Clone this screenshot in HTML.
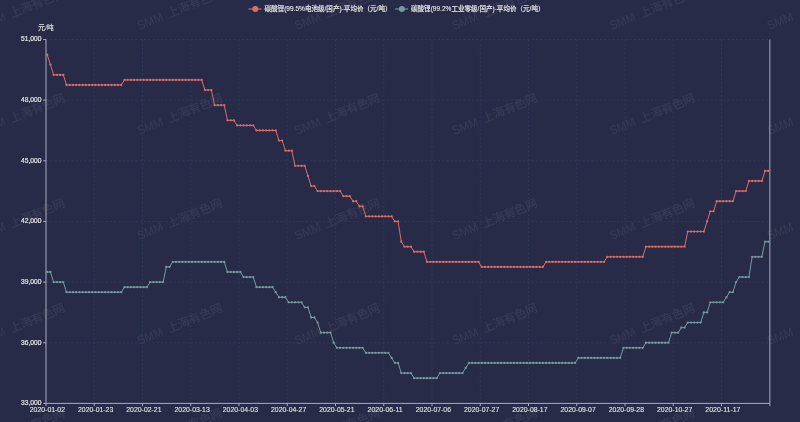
<!DOCTYPE html>
<html><head><meta charset="utf-8"><title>碳酸锂价格走势</title>
<style>html,body{margin:0;padding:0;background:#272b48;}body{width:800px;height:422px;overflow:hidden;}svg{display:block;}</style>
</head><body>
<svg width="800" height="422" viewBox="0 0 800 422" style="will-change:transform"><defs><filter id="sb" x="-5%" y="-5%" width="110%" height="110%"><feGaussianBlur stdDeviation="0.38"/></filter></defs><rect x="0" y="0" width="800" height="422" fill="#272b48"/><g fill="#ffffff" fill-opacity="0.075" font-family='"Liberation Sans", "Noto Sans CJK SC", sans-serif' font-size="11.9" font-weight="500"><g transform="translate(-18.20 30.00) rotate(-22)"><text x="0" y="0" font-size="12.3" textLength="26.6" lengthAdjust="spacingAndGlyphs">SMM</text><text x="32.2" y="0" letter-spacing="-0.3">上海有色网</text></g><g transform="translate(139.30 30.00) rotate(-22)"><text x="0" y="0" font-size="12.3" textLength="26.6" lengthAdjust="spacingAndGlyphs">SMM</text><text x="32.2" y="0" letter-spacing="-0.3">上海有色网</text></g><g transform="translate(296.80 30.00) rotate(-22)"><text x="0" y="0" font-size="12.3" textLength="26.6" lengthAdjust="spacingAndGlyphs">SMM</text><text x="32.2" y="0" letter-spacing="-0.3">上海有色网</text></g><g transform="translate(454.30 30.00) rotate(-22)"><text x="0" y="0" font-size="12.3" textLength="26.6" lengthAdjust="spacingAndGlyphs">SMM</text><text x="32.2" y="0" letter-spacing="-0.3">上海有色网</text></g><g transform="translate(611.80 30.00) rotate(-22)"><text x="0" y="0" font-size="12.3" textLength="26.6" lengthAdjust="spacingAndGlyphs">SMM</text><text x="32.2" y="0" letter-spacing="-0.3">上海有色网</text></g><g transform="translate(769.30 30.00) rotate(-22)"><text x="0" y="0" font-size="12.3" textLength="26.6" lengthAdjust="spacingAndGlyphs">SMM</text><text x="32.2" y="0" letter-spacing="-0.3">上海有色网</text></g><g transform="translate(926.80 30.00) rotate(-22)"><text x="0" y="0" font-size="12.3" textLength="26.6" lengthAdjust="spacingAndGlyphs">SMM</text><text x="32.2" y="0" letter-spacing="-0.3">上海有色网</text></g><g transform="translate(-18.20 135.00) rotate(-22)"><text x="0" y="0" font-size="12.3" textLength="26.6" lengthAdjust="spacingAndGlyphs">SMM</text><text x="32.2" y="0" letter-spacing="-0.3">上海有色网</text></g><g transform="translate(139.30 135.00) rotate(-22)"><text x="0" y="0" font-size="12.3" textLength="26.6" lengthAdjust="spacingAndGlyphs">SMM</text><text x="32.2" y="0" letter-spacing="-0.3">上海有色网</text></g><g transform="translate(296.80 135.00) rotate(-22)"><text x="0" y="0" font-size="12.3" textLength="26.6" lengthAdjust="spacingAndGlyphs">SMM</text><text x="32.2" y="0" letter-spacing="-0.3">上海有色网</text></g><g transform="translate(454.30 135.00) rotate(-22)"><text x="0" y="0" font-size="12.3" textLength="26.6" lengthAdjust="spacingAndGlyphs">SMM</text><text x="32.2" y="0" letter-spacing="-0.3">上海有色网</text></g><g transform="translate(611.80 135.00) rotate(-22)"><text x="0" y="0" font-size="12.3" textLength="26.6" lengthAdjust="spacingAndGlyphs">SMM</text><text x="32.2" y="0" letter-spacing="-0.3">上海有色网</text></g><g transform="translate(769.30 135.00) rotate(-22)"><text x="0" y="0" font-size="12.3" textLength="26.6" lengthAdjust="spacingAndGlyphs">SMM</text><text x="32.2" y="0" letter-spacing="-0.3">上海有色网</text></g><g transform="translate(926.80 135.00) rotate(-22)"><text x="0" y="0" font-size="12.3" textLength="26.6" lengthAdjust="spacingAndGlyphs">SMM</text><text x="32.2" y="0" letter-spacing="-0.3">上海有色网</text></g><g transform="translate(-18.20 240.00) rotate(-22)"><text x="0" y="0" font-size="12.3" textLength="26.6" lengthAdjust="spacingAndGlyphs">SMM</text><text x="32.2" y="0" letter-spacing="-0.3">上海有色网</text></g><g transform="translate(139.30 240.00) rotate(-22)"><text x="0" y="0" font-size="12.3" textLength="26.6" lengthAdjust="spacingAndGlyphs">SMM</text><text x="32.2" y="0" letter-spacing="-0.3">上海有色网</text></g><g transform="translate(296.80 240.00) rotate(-22)"><text x="0" y="0" font-size="12.3" textLength="26.6" lengthAdjust="spacingAndGlyphs">SMM</text><text x="32.2" y="0" letter-spacing="-0.3">上海有色网</text></g><g transform="translate(454.30 240.00) rotate(-22)"><text x="0" y="0" font-size="12.3" textLength="26.6" lengthAdjust="spacingAndGlyphs">SMM</text><text x="32.2" y="0" letter-spacing="-0.3">上海有色网</text></g><g transform="translate(611.80 240.00) rotate(-22)"><text x="0" y="0" font-size="12.3" textLength="26.6" lengthAdjust="spacingAndGlyphs">SMM</text><text x="32.2" y="0" letter-spacing="-0.3">上海有色网</text></g><g transform="translate(769.30 240.00) rotate(-22)"><text x="0" y="0" font-size="12.3" textLength="26.6" lengthAdjust="spacingAndGlyphs">SMM</text><text x="32.2" y="0" letter-spacing="-0.3">上海有色网</text></g><g transform="translate(926.80 240.00) rotate(-22)"><text x="0" y="0" font-size="12.3" textLength="26.6" lengthAdjust="spacingAndGlyphs">SMM</text><text x="32.2" y="0" letter-spacing="-0.3">上海有色网</text></g><g transform="translate(-18.20 345.00) rotate(-22)"><text x="0" y="0" font-size="12.3" textLength="26.6" lengthAdjust="spacingAndGlyphs">SMM</text><text x="32.2" y="0" letter-spacing="-0.3">上海有色网</text></g><g transform="translate(139.30 345.00) rotate(-22)"><text x="0" y="0" font-size="12.3" textLength="26.6" lengthAdjust="spacingAndGlyphs">SMM</text><text x="32.2" y="0" letter-spacing="-0.3">上海有色网</text></g><g transform="translate(296.80 345.00) rotate(-22)"><text x="0" y="0" font-size="12.3" textLength="26.6" lengthAdjust="spacingAndGlyphs">SMM</text><text x="32.2" y="0" letter-spacing="-0.3">上海有色网</text></g><g transform="translate(454.30 345.00) rotate(-22)"><text x="0" y="0" font-size="12.3" textLength="26.6" lengthAdjust="spacingAndGlyphs">SMM</text><text x="32.2" y="0" letter-spacing="-0.3">上海有色网</text></g><g transform="translate(611.80 345.00) rotate(-22)"><text x="0" y="0" font-size="12.3" textLength="26.6" lengthAdjust="spacingAndGlyphs">SMM</text><text x="32.2" y="0" letter-spacing="-0.3">上海有色网</text></g><g transform="translate(769.30 345.00) rotate(-22)"><text x="0" y="0" font-size="12.3" textLength="26.6" lengthAdjust="spacingAndGlyphs">SMM</text><text x="32.2" y="0" letter-spacing="-0.3">上海有色网</text></g><g transform="translate(926.80 345.00) rotate(-22)"><text x="0" y="0" font-size="12.3" textLength="26.6" lengthAdjust="spacingAndGlyphs">SMM</text><text x="32.2" y="0" letter-spacing="-0.3">上海有色网</text></g><g transform="translate(-18.20 450.00) rotate(-22)"><text x="0" y="0" font-size="12.3" textLength="26.6" lengthAdjust="spacingAndGlyphs">SMM</text><text x="32.2" y="0" letter-spacing="-0.3">上海有色网</text></g><g transform="translate(139.30 450.00) rotate(-22)"><text x="0" y="0" font-size="12.3" textLength="26.6" lengthAdjust="spacingAndGlyphs">SMM</text><text x="32.2" y="0" letter-spacing="-0.3">上海有色网</text></g><g transform="translate(296.80 450.00) rotate(-22)"><text x="0" y="0" font-size="12.3" textLength="26.6" lengthAdjust="spacingAndGlyphs">SMM</text><text x="32.2" y="0" letter-spacing="-0.3">上海有色网</text></g><g transform="translate(454.30 450.00) rotate(-22)"><text x="0" y="0" font-size="12.3" textLength="26.6" lengthAdjust="spacingAndGlyphs">SMM</text><text x="32.2" y="0" letter-spacing="-0.3">上海有色网</text></g><g transform="translate(611.80 450.00) rotate(-22)"><text x="0" y="0" font-size="12.3" textLength="26.6" lengthAdjust="spacingAndGlyphs">SMM</text><text x="32.2" y="0" letter-spacing="-0.3">上海有色网</text></g><g transform="translate(769.30 450.00) rotate(-22)"><text x="0" y="0" font-size="12.3" textLength="26.6" lengthAdjust="spacingAndGlyphs">SMM</text><text x="32.2" y="0" letter-spacing="-0.3">上海有色网</text></g><g transform="translate(926.80 450.00) rotate(-22)"><text x="0" y="0" font-size="12.3" textLength="26.6" lengthAdjust="spacingAndGlyphs">SMM</text><text x="32.2" y="0" letter-spacing="-0.3">上海有色网</text></g><g transform="translate(-18.20 555.00) rotate(-22)"><text x="0" y="0" font-size="12.3" textLength="26.6" lengthAdjust="spacingAndGlyphs">SMM</text><text x="32.2" y="0" letter-spacing="-0.3">上海有色网</text></g><g transform="translate(139.30 555.00) rotate(-22)"><text x="0" y="0" font-size="12.3" textLength="26.6" lengthAdjust="spacingAndGlyphs">SMM</text><text x="32.2" y="0" letter-spacing="-0.3">上海有色网</text></g><g transform="translate(296.80 555.00) rotate(-22)"><text x="0" y="0" font-size="12.3" textLength="26.6" lengthAdjust="spacingAndGlyphs">SMM</text><text x="32.2" y="0" letter-spacing="-0.3">上海有色网</text></g><g transform="translate(454.30 555.00) rotate(-22)"><text x="0" y="0" font-size="12.3" textLength="26.6" lengthAdjust="spacingAndGlyphs">SMM</text><text x="32.2" y="0" letter-spacing="-0.3">上海有色网</text></g><g transform="translate(611.80 555.00) rotate(-22)"><text x="0" y="0" font-size="12.3" textLength="26.6" lengthAdjust="spacingAndGlyphs">SMM</text><text x="32.2" y="0" letter-spacing="-0.3">上海有色网</text></g><g transform="translate(769.30 555.00) rotate(-22)"><text x="0" y="0" font-size="12.3" textLength="26.6" lengthAdjust="spacingAndGlyphs">SMM</text><text x="32.2" y="0" letter-spacing="-0.3">上海有色网</text></g><g transform="translate(926.80 555.00) rotate(-22)"><text x="0" y="0" font-size="12.3" textLength="26.6" lengthAdjust="spacingAndGlyphs">SMM</text><text x="32.2" y="0" letter-spacing="-0.3">上海有色网</text></g></g><g stroke="#2f3759" stroke-width="1" stroke-dasharray="2.13 2.13" fill="none" filter="url(#sb)"><line x1="46.00" y1="39.50" x2="769.85" y2="39.50"/><line x1="46.00" y1="100.15" x2="769.85" y2="100.15"/><line x1="46.00" y1="160.80" x2="769.85" y2="160.80"/><line x1="46.00" y1="221.45" x2="769.85" y2="221.45"/><line x1="46.00" y1="282.10" x2="769.85" y2="282.10"/><line x1="46.00" y1="342.75" x2="769.85" y2="342.75"/><line x1="94.25" y1="39.50" x2="94.25" y2="403.40"/><line x1="142.50" y1="39.50" x2="142.50" y2="403.40"/><line x1="190.75" y1="39.50" x2="190.75" y2="403.40"/><line x1="239.00" y1="39.50" x2="239.00" y2="403.40"/><line x1="287.25" y1="39.50" x2="287.25" y2="403.40"/><line x1="335.50" y1="39.50" x2="335.50" y2="403.40"/><line x1="383.75" y1="39.50" x2="383.75" y2="403.40"/><line x1="432.00" y1="39.50" x2="432.00" y2="403.40"/><line x1="480.25" y1="39.50" x2="480.25" y2="403.40"/><line x1="528.50" y1="39.50" x2="528.50" y2="403.40"/><line x1="576.75" y1="39.50" x2="576.75" y2="403.40"/><line x1="625.00" y1="39.50" x2="625.00" y2="403.40"/><line x1="673.25" y1="39.50" x2="673.25" y2="403.40"/><line x1="721.50" y1="39.50" x2="721.50" y2="403.40"/></g><g stroke="#a9acbe" stroke-width="1" fill="none" filter="url(#sb)"><line x1="46.0" y1="39.5" x2="46.0" y2="403.4"/><line x1="769.85" y1="39.5" x2="769.85" y2="403.4"/><line x1="46.0" y1="403.4" x2="769.85" y2="403.4"/><line x1="43.20" y1="39.50" x2="46.0" y2="39.50"/><line x1="43.20" y1="100.15" x2="46.0" y2="100.15"/><line x1="43.20" y1="160.80" x2="46.0" y2="160.80"/><line x1="43.20" y1="221.45" x2="46.0" y2="221.45"/><line x1="43.20" y1="282.10" x2="46.0" y2="282.10"/><line x1="43.20" y1="342.75" x2="46.0" y2="342.75"/><line x1="43.20" y1="403.40" x2="46.0" y2="403.40"/><line x1="46.00" y1="403.4" x2="46.00" y2="406.10"/><line x1="94.25" y1="403.4" x2="94.25" y2="406.10"/><line x1="142.50" y1="403.4" x2="142.50" y2="406.10"/><line x1="190.75" y1="403.4" x2="190.75" y2="406.10"/><line x1="239.00" y1="403.4" x2="239.00" y2="406.10"/><line x1="287.25" y1="403.4" x2="287.25" y2="406.10"/><line x1="335.50" y1="403.4" x2="335.50" y2="406.10"/><line x1="383.75" y1="403.4" x2="383.75" y2="406.10"/><line x1="432.00" y1="403.4" x2="432.00" y2="406.10"/><line x1="480.25" y1="403.4" x2="480.25" y2="406.10"/><line x1="528.50" y1="403.4" x2="528.50" y2="406.10"/><line x1="576.75" y1="403.4" x2="576.75" y2="406.10"/><line x1="625.00" y1="403.4" x2="625.00" y2="406.10"/><line x1="673.25" y1="403.4" x2="673.25" y2="406.10"/><line x1="721.50" y1="403.4" x2="721.50" y2="406.10"/><line x1="769.85" y1="403.4" x2="769.85" y2="406.10"/></g><g fill="#e6e6e6" stroke="#e6e6e6" stroke-width="0.2" font-family='"Liberation Sans", "Noto Sans CJK SC", sans-serif' font-size="6.7" text-anchor="end"><text x="41.4" y="41.25" textLength="20.4" lengthAdjust="spacingAndGlyphs">51,000</text><text x="41.4" y="101.90" textLength="20.4" lengthAdjust="spacingAndGlyphs">48,000</text><text x="41.4" y="162.55" textLength="20.4" lengthAdjust="spacingAndGlyphs">45,000</text><text x="41.4" y="223.20" textLength="20.4" lengthAdjust="spacingAndGlyphs">42,000</text><text x="41.4" y="283.85" textLength="20.4" lengthAdjust="spacingAndGlyphs">39,000</text><text x="41.4" y="344.50" textLength="20.4" lengthAdjust="spacingAndGlyphs">36,000</text><text x="41.4" y="405.15" textLength="20.4" lengthAdjust="spacingAndGlyphs">33,000</text></g><g fill="#e6e6e6" stroke="#e6e6e6" stroke-width="0.1" font-family='"Liberation Sans", "Noto Sans CJK SC", sans-serif' font-size="6.6" text-anchor="middle"><text x="47.40" y="411.9" textLength="35.2" lengthAdjust="spacingAndGlyphs">2020-01-02</text><text x="95.65" y="411.9" textLength="35.2" lengthAdjust="spacingAndGlyphs">2020-01-23</text><text x="143.90" y="411.9" textLength="35.2" lengthAdjust="spacingAndGlyphs">2020-02-21</text><text x="192.15" y="411.9" textLength="35.2" lengthAdjust="spacingAndGlyphs">2020-03-13</text><text x="240.40" y="411.9" textLength="35.2" lengthAdjust="spacingAndGlyphs">2020-04-03</text><text x="288.65" y="411.9" textLength="35.2" lengthAdjust="spacingAndGlyphs">2020-04-27</text><text x="336.90" y="411.9" textLength="35.2" lengthAdjust="spacingAndGlyphs">2020-05-21</text><text x="385.15" y="411.9" textLength="35.2" lengthAdjust="spacingAndGlyphs">2020-06-11</text><text x="433.40" y="411.9" textLength="35.2" lengthAdjust="spacingAndGlyphs">2020-07-06</text><text x="481.65" y="411.9" textLength="35.2" lengthAdjust="spacingAndGlyphs">2020-07-27</text><text x="529.90" y="411.9" textLength="35.2" lengthAdjust="spacingAndGlyphs">2020-08-17</text><text x="578.15" y="411.9" textLength="35.2" lengthAdjust="spacingAndGlyphs">2020-09-07</text><text x="626.40" y="411.9" textLength="35.2" lengthAdjust="spacingAndGlyphs">2020-09-28</text><text x="674.65" y="411.9" textLength="35.2" lengthAdjust="spacingAndGlyphs">2020-10-27</text><text x="722.90" y="411.9" textLength="35.2" lengthAdjust="spacingAndGlyphs">2020-11-17</text></g><text x="45.9" y="30.3" fill="#e6e6e6" font-family='"Liberation Sans", "Noto Sans CJK SC", sans-serif' font-size="7" font-weight="500" text-anchor="middle">元/吨</text><line x1="248.5" y1="9" x2="261.5" y2="9" stroke="#dd6b66" stroke-width="1.1"/><circle cx="255.35" cy="8.9" r="3" fill="#dd6b66"/><text x="264.5" y="11.3" fill="#e6e6e6" stroke="#e6e6e6" stroke-width="0.12" font-family='"Liberation Sans", "Noto Sans CJK SC", sans-serif' font-size="6.8" font-weight="500" textLength="127.0" lengthAdjust="spacingAndGlyphs">碳酸锂(99.5%电池级/国产)-平均价（元/吨）</text><line x1="395.0" y1="9" x2="408.0" y2="9" stroke="#759aa0" stroke-width="1.1"/><circle cx="401.85" cy="8.9" r="3" fill="#759aa0"/><text x="411.0" y="11.3" fill="#e6e6e6" stroke="#e6e6e6" stroke-width="0.12" font-family='"Liberation Sans", "Noto Sans CJK SC", sans-serif' font-size="6.8" font-weight="500" textLength="133.5" lengthAdjust="spacingAndGlyphs">碳酸锂(99.2%工业零级/国产)-平均价（元/吨）</text><polyline points="47.20,271.99 50.42,271.99 53.64,282.10 56.86,282.10 60.08,282.10 63.30,282.10 66.51,292.21 69.73,292.21 72.95,292.21 76.17,292.21 79.39,292.21 82.61,292.21 85.83,292.21 89.05,292.21 92.27,292.21 95.48,292.21 98.70,292.21 101.92,292.21 105.14,292.21 108.36,292.21 111.58,292.21 114.80,292.21 118.02,292.21 121.24,292.21 124.46,287.15 127.67,287.15 130.89,287.15 134.11,287.15 137.33,287.15 140.55,287.15 143.77,287.15 146.99,287.15 150.21,282.10 153.43,282.10 156.65,282.10 159.87,282.10 163.08,282.10 166.30,266.94 169.52,266.94 172.74,261.88 175.96,261.88 179.18,261.88 182.40,261.88 185.62,261.88 188.84,261.88 192.06,261.88 195.27,261.88 198.49,261.88 201.71,261.88 204.93,261.88 208.15,261.88 211.37,261.88 214.59,261.88 217.81,261.88 221.03,261.88 224.25,261.88 227.46,271.99 230.68,271.99 233.90,271.99 237.12,271.99 240.34,271.99 243.56,277.05 246.78,277.05 250.00,277.05 253.22,277.05 256.44,287.15 259.65,287.15 262.87,287.15 266.09,287.15 269.31,287.15 272.53,287.15 275.75,292.21 278.97,297.26 282.19,297.26 285.41,297.26 288.62,302.32 291.84,302.32 295.06,302.32 298.28,302.32 301.50,302.32 304.72,307.37 307.94,307.37 311.16,317.48 314.38,317.48 317.60,322.53 320.81,332.64 324.03,332.64 327.25,332.64 330.47,332.64 333.69,342.75 336.91,347.80 340.13,347.80 343.35,347.80 346.57,347.80 349.79,347.80 353.00,347.80 356.22,347.80 359.44,347.80 362.66,347.80 365.88,352.86 369.10,352.86 372.32,352.86 375.54,352.86 378.76,352.86 381.98,352.86 385.19,352.86 388.41,352.86 391.63,357.91 394.85,362.97 398.07,362.97 401.29,373.07 404.51,373.07 407.73,373.07 410.95,373.07 414.17,378.13 417.38,378.13 420.60,378.13 423.82,378.13 427.04,378.13 430.26,378.13 433.48,378.13 436.70,378.13 439.92,373.07 443.14,373.07 446.36,373.07 449.57,373.07 452.79,373.07 456.01,373.07 459.23,373.07 462.45,373.07 465.67,368.02 468.89,362.97 472.11,362.97 475.33,362.97 478.55,362.97 481.76,362.97 484.98,362.97 488.20,362.97 491.42,362.97 494.64,362.97 497.86,362.97 501.08,362.97 504.30,362.97 507.52,362.97 510.74,362.97 513.96,362.97 517.17,362.97 520.39,362.97 523.61,362.97 526.83,362.97 530.05,362.97 533.27,362.97 536.49,362.97 539.71,362.97 542.93,362.97 546.14,362.97 549.36,362.97 552.58,362.97 555.80,362.97 559.02,362.97 562.24,362.97 565.46,362.97 568.68,362.97 571.90,362.97 575.12,362.97 578.34,357.91 581.55,357.91 584.77,357.91 587.99,357.91 591.21,357.91 594.43,357.91 597.65,357.91 600.87,357.91 604.09,357.91 607.31,357.91 610.52,357.91 613.74,357.91 616.96,357.91 620.18,357.91 623.40,347.80 626.62,347.80 629.84,347.80 633.06,347.80 636.28,347.80 639.50,347.80 642.72,347.80 645.93,342.75 649.15,342.75 652.37,342.75 655.59,342.75 658.81,342.75 662.03,342.75 665.25,342.75 668.47,342.75 671.69,332.64 674.90,332.64 678.12,332.64 681.34,327.59 684.56,327.59 687.78,322.53 691.00,322.53 694.22,322.53 697.44,322.53 700.66,322.53 703.88,312.42 707.10,312.42 710.31,302.32 713.53,302.32 716.75,302.32 719.97,302.32 723.19,302.32 726.41,297.26 729.63,292.21 732.85,292.21 736.07,282.10 739.28,277.05 742.50,277.05 745.72,277.05 748.94,277.05 752.16,256.83 755.38,256.83 758.60,256.83 761.82,256.83 765.04,241.67 768.26,241.67" fill="none" stroke="#759aa0" stroke-width="1.0" stroke-linejoin="round"/><g fill="#759aa0"><circle cx="47.20" cy="271.99" r="1.15"/><circle cx="50.42" cy="271.99" r="1.15"/><circle cx="53.64" cy="282.10" r="1.15"/><circle cx="56.86" cy="282.10" r="1.15"/><circle cx="60.08" cy="282.10" r="1.15"/><circle cx="63.30" cy="282.10" r="1.15"/><circle cx="66.51" cy="292.21" r="1.15"/><circle cx="69.73" cy="292.21" r="1.15"/><circle cx="72.95" cy="292.21" r="1.15"/><circle cx="76.17" cy="292.21" r="1.15"/><circle cx="79.39" cy="292.21" r="1.15"/><circle cx="82.61" cy="292.21" r="1.15"/><circle cx="85.83" cy="292.21" r="1.15"/><circle cx="89.05" cy="292.21" r="1.15"/><circle cx="92.27" cy="292.21" r="1.15"/><circle cx="95.48" cy="292.21" r="1.15"/><circle cx="98.70" cy="292.21" r="1.15"/><circle cx="101.92" cy="292.21" r="1.15"/><circle cx="105.14" cy="292.21" r="1.15"/><circle cx="108.36" cy="292.21" r="1.15"/><circle cx="111.58" cy="292.21" r="1.15"/><circle cx="114.80" cy="292.21" r="1.15"/><circle cx="118.02" cy="292.21" r="1.15"/><circle cx="121.24" cy="292.21" r="1.15"/><circle cx="124.46" cy="287.15" r="1.15"/><circle cx="127.67" cy="287.15" r="1.15"/><circle cx="130.89" cy="287.15" r="1.15"/><circle cx="134.11" cy="287.15" r="1.15"/><circle cx="137.33" cy="287.15" r="1.15"/><circle cx="140.55" cy="287.15" r="1.15"/><circle cx="143.77" cy="287.15" r="1.15"/><circle cx="146.99" cy="287.15" r="1.15"/><circle cx="150.21" cy="282.10" r="1.15"/><circle cx="153.43" cy="282.10" r="1.15"/><circle cx="156.65" cy="282.10" r="1.15"/><circle cx="159.87" cy="282.10" r="1.15"/><circle cx="163.08" cy="282.10" r="1.15"/><circle cx="166.30" cy="266.94" r="1.15"/><circle cx="169.52" cy="266.94" r="1.15"/><circle cx="172.74" cy="261.88" r="1.15"/><circle cx="175.96" cy="261.88" r="1.15"/><circle cx="179.18" cy="261.88" r="1.15"/><circle cx="182.40" cy="261.88" r="1.15"/><circle cx="185.62" cy="261.88" r="1.15"/><circle cx="188.84" cy="261.88" r="1.15"/><circle cx="192.06" cy="261.88" r="1.15"/><circle cx="195.27" cy="261.88" r="1.15"/><circle cx="198.49" cy="261.88" r="1.15"/><circle cx="201.71" cy="261.88" r="1.15"/><circle cx="204.93" cy="261.88" r="1.15"/><circle cx="208.15" cy="261.88" r="1.15"/><circle cx="211.37" cy="261.88" r="1.15"/><circle cx="214.59" cy="261.88" r="1.15"/><circle cx="217.81" cy="261.88" r="1.15"/><circle cx="221.03" cy="261.88" r="1.15"/><circle cx="224.25" cy="261.88" r="1.15"/><circle cx="227.46" cy="271.99" r="1.15"/><circle cx="230.68" cy="271.99" r="1.15"/><circle cx="233.90" cy="271.99" r="1.15"/><circle cx="237.12" cy="271.99" r="1.15"/><circle cx="240.34" cy="271.99" r="1.15"/><circle cx="243.56" cy="277.05" r="1.15"/><circle cx="246.78" cy="277.05" r="1.15"/><circle cx="250.00" cy="277.05" r="1.15"/><circle cx="253.22" cy="277.05" r="1.15"/><circle cx="256.44" cy="287.15" r="1.15"/><circle cx="259.65" cy="287.15" r="1.15"/><circle cx="262.87" cy="287.15" r="1.15"/><circle cx="266.09" cy="287.15" r="1.15"/><circle cx="269.31" cy="287.15" r="1.15"/><circle cx="272.53" cy="287.15" r="1.15"/><circle cx="275.75" cy="292.21" r="1.15"/><circle cx="278.97" cy="297.26" r="1.15"/><circle cx="282.19" cy="297.26" r="1.15"/><circle cx="285.41" cy="297.26" r="1.15"/><circle cx="288.62" cy="302.32" r="1.15"/><circle cx="291.84" cy="302.32" r="1.15"/><circle cx="295.06" cy="302.32" r="1.15"/><circle cx="298.28" cy="302.32" r="1.15"/><circle cx="301.50" cy="302.32" r="1.15"/><circle cx="304.72" cy="307.37" r="1.15"/><circle cx="307.94" cy="307.37" r="1.15"/><circle cx="311.16" cy="317.48" r="1.15"/><circle cx="314.38" cy="317.48" r="1.15"/><circle cx="317.60" cy="322.53" r="1.15"/><circle cx="320.81" cy="332.64" r="1.15"/><circle cx="324.03" cy="332.64" r="1.15"/><circle cx="327.25" cy="332.64" r="1.15"/><circle cx="330.47" cy="332.64" r="1.15"/><circle cx="333.69" cy="342.75" r="1.15"/><circle cx="336.91" cy="347.80" r="1.15"/><circle cx="340.13" cy="347.80" r="1.15"/><circle cx="343.35" cy="347.80" r="1.15"/><circle cx="346.57" cy="347.80" r="1.15"/><circle cx="349.79" cy="347.80" r="1.15"/><circle cx="353.00" cy="347.80" r="1.15"/><circle cx="356.22" cy="347.80" r="1.15"/><circle cx="359.44" cy="347.80" r="1.15"/><circle cx="362.66" cy="347.80" r="1.15"/><circle cx="365.88" cy="352.86" r="1.15"/><circle cx="369.10" cy="352.86" r="1.15"/><circle cx="372.32" cy="352.86" r="1.15"/><circle cx="375.54" cy="352.86" r="1.15"/><circle cx="378.76" cy="352.86" r="1.15"/><circle cx="381.98" cy="352.86" r="1.15"/><circle cx="385.19" cy="352.86" r="1.15"/><circle cx="388.41" cy="352.86" r="1.15"/><circle cx="391.63" cy="357.91" r="1.15"/><circle cx="394.85" cy="362.97" r="1.15"/><circle cx="398.07" cy="362.97" r="1.15"/><circle cx="401.29" cy="373.07" r="1.15"/><circle cx="404.51" cy="373.07" r="1.15"/><circle cx="407.73" cy="373.07" r="1.15"/><circle cx="410.95" cy="373.07" r="1.15"/><circle cx="414.17" cy="378.13" r="1.15"/><circle cx="417.38" cy="378.13" r="1.15"/><circle cx="420.60" cy="378.13" r="1.15"/><circle cx="423.82" cy="378.13" r="1.15"/><circle cx="427.04" cy="378.13" r="1.15"/><circle cx="430.26" cy="378.13" r="1.15"/><circle cx="433.48" cy="378.13" r="1.15"/><circle cx="436.70" cy="378.13" r="1.15"/><circle cx="439.92" cy="373.07" r="1.15"/><circle cx="443.14" cy="373.07" r="1.15"/><circle cx="446.36" cy="373.07" r="1.15"/><circle cx="449.57" cy="373.07" r="1.15"/><circle cx="452.79" cy="373.07" r="1.15"/><circle cx="456.01" cy="373.07" r="1.15"/><circle cx="459.23" cy="373.07" r="1.15"/><circle cx="462.45" cy="373.07" r="1.15"/><circle cx="465.67" cy="368.02" r="1.15"/><circle cx="468.89" cy="362.97" r="1.15"/><circle cx="472.11" cy="362.97" r="1.15"/><circle cx="475.33" cy="362.97" r="1.15"/><circle cx="478.55" cy="362.97" r="1.15"/><circle cx="481.76" cy="362.97" r="1.15"/><circle cx="484.98" cy="362.97" r="1.15"/><circle cx="488.20" cy="362.97" r="1.15"/><circle cx="491.42" cy="362.97" r="1.15"/><circle cx="494.64" cy="362.97" r="1.15"/><circle cx="497.86" cy="362.97" r="1.15"/><circle cx="501.08" cy="362.97" r="1.15"/><circle cx="504.30" cy="362.97" r="1.15"/><circle cx="507.52" cy="362.97" r="1.15"/><circle cx="510.74" cy="362.97" r="1.15"/><circle cx="513.96" cy="362.97" r="1.15"/><circle cx="517.17" cy="362.97" r="1.15"/><circle cx="520.39" cy="362.97" r="1.15"/><circle cx="523.61" cy="362.97" r="1.15"/><circle cx="526.83" cy="362.97" r="1.15"/><circle cx="530.05" cy="362.97" r="1.15"/><circle cx="533.27" cy="362.97" r="1.15"/><circle cx="536.49" cy="362.97" r="1.15"/><circle cx="539.71" cy="362.97" r="1.15"/><circle cx="542.93" cy="362.97" r="1.15"/><circle cx="546.14" cy="362.97" r="1.15"/><circle cx="549.36" cy="362.97" r="1.15"/><circle cx="552.58" cy="362.97" r="1.15"/><circle cx="555.80" cy="362.97" r="1.15"/><circle cx="559.02" cy="362.97" r="1.15"/><circle cx="562.24" cy="362.97" r="1.15"/><circle cx="565.46" cy="362.97" r="1.15"/><circle cx="568.68" cy="362.97" r="1.15"/><circle cx="571.90" cy="362.97" r="1.15"/><circle cx="575.12" cy="362.97" r="1.15"/><circle cx="578.34" cy="357.91" r="1.15"/><circle cx="581.55" cy="357.91" r="1.15"/><circle cx="584.77" cy="357.91" r="1.15"/><circle cx="587.99" cy="357.91" r="1.15"/><circle cx="591.21" cy="357.91" r="1.15"/><circle cx="594.43" cy="357.91" r="1.15"/><circle cx="597.65" cy="357.91" r="1.15"/><circle cx="600.87" cy="357.91" r="1.15"/><circle cx="604.09" cy="357.91" r="1.15"/><circle cx="607.31" cy="357.91" r="1.15"/><circle cx="610.52" cy="357.91" r="1.15"/><circle cx="613.74" cy="357.91" r="1.15"/><circle cx="616.96" cy="357.91" r="1.15"/><circle cx="620.18" cy="357.91" r="1.15"/><circle cx="623.40" cy="347.80" r="1.15"/><circle cx="626.62" cy="347.80" r="1.15"/><circle cx="629.84" cy="347.80" r="1.15"/><circle cx="633.06" cy="347.80" r="1.15"/><circle cx="636.28" cy="347.80" r="1.15"/><circle cx="639.50" cy="347.80" r="1.15"/><circle cx="642.72" cy="347.80" r="1.15"/><circle cx="645.93" cy="342.75" r="1.15"/><circle cx="649.15" cy="342.75" r="1.15"/><circle cx="652.37" cy="342.75" r="1.15"/><circle cx="655.59" cy="342.75" r="1.15"/><circle cx="658.81" cy="342.75" r="1.15"/><circle cx="662.03" cy="342.75" r="1.15"/><circle cx="665.25" cy="342.75" r="1.15"/><circle cx="668.47" cy="342.75" r="1.15"/><circle cx="671.69" cy="332.64" r="1.15"/><circle cx="674.90" cy="332.64" r="1.15"/><circle cx="678.12" cy="332.64" r="1.15"/><circle cx="681.34" cy="327.59" r="1.15"/><circle cx="684.56" cy="327.59" r="1.15"/><circle cx="687.78" cy="322.53" r="1.15"/><circle cx="691.00" cy="322.53" r="1.15"/><circle cx="694.22" cy="322.53" r="1.15"/><circle cx="697.44" cy="322.53" r="1.15"/><circle cx="700.66" cy="322.53" r="1.15"/><circle cx="703.88" cy="312.42" r="1.15"/><circle cx="707.10" cy="312.42" r="1.15"/><circle cx="710.31" cy="302.32" r="1.15"/><circle cx="713.53" cy="302.32" r="1.15"/><circle cx="716.75" cy="302.32" r="1.15"/><circle cx="719.97" cy="302.32" r="1.15"/><circle cx="723.19" cy="302.32" r="1.15"/><circle cx="726.41" cy="297.26" r="1.15"/><circle cx="729.63" cy="292.21" r="1.15"/><circle cx="732.85" cy="292.21" r="1.15"/><circle cx="736.07" cy="282.10" r="1.15"/><circle cx="739.28" cy="277.05" r="1.15"/><circle cx="742.50" cy="277.05" r="1.15"/><circle cx="745.72" cy="277.05" r="1.15"/><circle cx="748.94" cy="277.05" r="1.15"/><circle cx="752.16" cy="256.83" r="1.15"/><circle cx="755.38" cy="256.83" r="1.15"/><circle cx="758.60" cy="256.83" r="1.15"/><circle cx="761.82" cy="256.83" r="1.15"/><circle cx="765.04" cy="241.67" r="1.15"/><circle cx="768.26" cy="241.67" r="1.15"/></g><polyline points="47.20,54.66 50.42,64.77 53.64,74.88 56.86,74.88 60.08,74.88 63.30,74.88 66.51,84.99 69.73,84.99 72.95,84.99 76.17,84.99 79.39,84.99 82.61,84.99 85.83,84.99 89.05,84.99 92.27,84.99 95.48,84.99 98.70,84.99 101.92,84.99 105.14,84.99 108.36,84.99 111.58,84.99 114.80,84.99 118.02,84.99 121.24,84.99 124.46,79.93 127.67,79.93 130.89,79.93 134.11,79.93 137.33,79.93 140.55,79.93 143.77,79.93 146.99,79.93 150.21,79.93 153.43,79.93 156.65,79.93 159.87,79.93 163.08,79.93 166.30,79.93 169.52,79.93 172.74,79.93 175.96,79.93 179.18,79.93 182.40,79.93 185.62,79.93 188.84,79.93 192.06,79.93 195.27,79.93 198.49,79.93 201.71,79.93 204.93,90.04 208.15,90.04 211.37,90.04 214.59,105.20 217.81,105.20 221.03,105.20 224.25,105.20 227.46,120.37 230.68,120.37 233.90,120.37 237.12,125.42 240.34,125.42 243.56,125.42 246.78,125.42 250.00,125.42 253.22,125.42 256.44,130.47 259.65,130.47 262.87,130.47 266.09,130.47 269.31,130.47 272.53,130.47 275.75,130.47 278.97,140.58 282.19,140.58 285.41,150.69 288.62,150.69 291.84,150.69 295.06,165.85 298.28,165.85 301.50,165.85 304.72,165.85 307.94,175.96 311.16,186.07 314.38,186.07 317.60,191.12 320.81,191.12 324.03,191.12 327.25,191.12 330.47,191.12 333.69,191.12 336.91,191.12 340.13,191.12 343.35,196.18 346.57,196.18 349.79,196.18 353.00,201.23 356.22,201.23 359.44,206.29 362.66,206.29 365.88,216.40 369.10,216.40 372.32,216.40 375.54,216.40 378.76,216.40 381.98,216.40 385.19,216.40 388.41,216.40 391.63,216.40 394.85,221.45 398.07,221.45 401.29,241.67 404.51,246.72 407.73,246.72 410.95,246.72 414.17,251.77 417.38,251.77 420.60,251.77 423.82,251.77 427.04,261.88 430.26,261.88 433.48,261.88 436.70,261.88 439.92,261.88 443.14,261.88 446.36,261.88 449.57,261.88 452.79,261.88 456.01,261.88 459.23,261.88 462.45,261.88 465.67,261.88 468.89,261.88 472.11,261.88 475.33,261.88 478.55,261.88 481.76,266.94 484.98,266.94 488.20,266.94 491.42,266.94 494.64,266.94 497.86,266.94 501.08,266.94 504.30,266.94 507.52,266.94 510.74,266.94 513.96,266.94 517.17,266.94 520.39,266.94 523.61,266.94 526.83,266.94 530.05,266.94 533.27,266.94 536.49,266.94 539.71,266.94 542.93,266.94 546.14,261.88 549.36,261.88 552.58,261.88 555.80,261.88 559.02,261.88 562.24,261.88 565.46,261.88 568.68,261.88 571.90,261.88 575.12,261.88 578.34,261.88 581.55,261.88 584.77,261.88 587.99,261.88 591.21,261.88 594.43,261.88 597.65,261.88 600.87,261.88 604.09,261.88 607.31,256.83 610.52,256.83 613.74,256.83 616.96,256.83 620.18,256.83 623.40,256.83 626.62,256.83 629.84,256.83 633.06,256.83 636.28,256.83 639.50,256.83 642.72,256.83 645.93,246.72 649.15,246.72 652.37,246.72 655.59,246.72 658.81,246.72 662.03,246.72 665.25,246.72 668.47,246.72 671.69,246.72 674.90,246.72 678.12,246.72 681.34,246.72 684.56,246.72 687.78,231.56 691.00,231.56 694.22,231.56 697.44,231.56 700.66,231.56 703.88,231.56 707.10,221.45 710.31,211.34 713.53,211.34 716.75,201.23 719.97,201.23 723.19,201.23 726.41,201.23 729.63,201.23 732.85,201.23 736.07,191.12 739.28,191.12 742.50,191.12 745.72,191.12 748.94,181.02 752.16,181.02 755.38,181.02 758.60,181.02 761.82,181.02 765.04,170.91 768.26,170.91" fill="none" stroke="#dd6b66" stroke-width="1.0" stroke-linejoin="round"/><g fill="#dd6b66"><circle cx="47.20" cy="54.66" r="1.15"/><circle cx="50.42" cy="64.77" r="1.15"/><circle cx="53.64" cy="74.88" r="1.15"/><circle cx="56.86" cy="74.88" r="1.15"/><circle cx="60.08" cy="74.88" r="1.15"/><circle cx="63.30" cy="74.88" r="1.15"/><circle cx="66.51" cy="84.99" r="1.15"/><circle cx="69.73" cy="84.99" r="1.15"/><circle cx="72.95" cy="84.99" r="1.15"/><circle cx="76.17" cy="84.99" r="1.15"/><circle cx="79.39" cy="84.99" r="1.15"/><circle cx="82.61" cy="84.99" r="1.15"/><circle cx="85.83" cy="84.99" r="1.15"/><circle cx="89.05" cy="84.99" r="1.15"/><circle cx="92.27" cy="84.99" r="1.15"/><circle cx="95.48" cy="84.99" r="1.15"/><circle cx="98.70" cy="84.99" r="1.15"/><circle cx="101.92" cy="84.99" r="1.15"/><circle cx="105.14" cy="84.99" r="1.15"/><circle cx="108.36" cy="84.99" r="1.15"/><circle cx="111.58" cy="84.99" r="1.15"/><circle cx="114.80" cy="84.99" r="1.15"/><circle cx="118.02" cy="84.99" r="1.15"/><circle cx="121.24" cy="84.99" r="1.15"/><circle cx="124.46" cy="79.93" r="1.15"/><circle cx="127.67" cy="79.93" r="1.15"/><circle cx="130.89" cy="79.93" r="1.15"/><circle cx="134.11" cy="79.93" r="1.15"/><circle cx="137.33" cy="79.93" r="1.15"/><circle cx="140.55" cy="79.93" r="1.15"/><circle cx="143.77" cy="79.93" r="1.15"/><circle cx="146.99" cy="79.93" r="1.15"/><circle cx="150.21" cy="79.93" r="1.15"/><circle cx="153.43" cy="79.93" r="1.15"/><circle cx="156.65" cy="79.93" r="1.15"/><circle cx="159.87" cy="79.93" r="1.15"/><circle cx="163.08" cy="79.93" r="1.15"/><circle cx="166.30" cy="79.93" r="1.15"/><circle cx="169.52" cy="79.93" r="1.15"/><circle cx="172.74" cy="79.93" r="1.15"/><circle cx="175.96" cy="79.93" r="1.15"/><circle cx="179.18" cy="79.93" r="1.15"/><circle cx="182.40" cy="79.93" r="1.15"/><circle cx="185.62" cy="79.93" r="1.15"/><circle cx="188.84" cy="79.93" r="1.15"/><circle cx="192.06" cy="79.93" r="1.15"/><circle cx="195.27" cy="79.93" r="1.15"/><circle cx="198.49" cy="79.93" r="1.15"/><circle cx="201.71" cy="79.93" r="1.15"/><circle cx="204.93" cy="90.04" r="1.15"/><circle cx="208.15" cy="90.04" r="1.15"/><circle cx="211.37" cy="90.04" r="1.15"/><circle cx="214.59" cy="105.20" r="1.15"/><circle cx="217.81" cy="105.20" r="1.15"/><circle cx="221.03" cy="105.20" r="1.15"/><circle cx="224.25" cy="105.20" r="1.15"/><circle cx="227.46" cy="120.37" r="1.15"/><circle cx="230.68" cy="120.37" r="1.15"/><circle cx="233.90" cy="120.37" r="1.15"/><circle cx="237.12" cy="125.42" r="1.15"/><circle cx="240.34" cy="125.42" r="1.15"/><circle cx="243.56" cy="125.42" r="1.15"/><circle cx="246.78" cy="125.42" r="1.15"/><circle cx="250.00" cy="125.42" r="1.15"/><circle cx="253.22" cy="125.42" r="1.15"/><circle cx="256.44" cy="130.47" r="1.15"/><circle cx="259.65" cy="130.47" r="1.15"/><circle cx="262.87" cy="130.47" r="1.15"/><circle cx="266.09" cy="130.47" r="1.15"/><circle cx="269.31" cy="130.47" r="1.15"/><circle cx="272.53" cy="130.47" r="1.15"/><circle cx="275.75" cy="130.47" r="1.15"/><circle cx="278.97" cy="140.58" r="1.15"/><circle cx="282.19" cy="140.58" r="1.15"/><circle cx="285.41" cy="150.69" r="1.15"/><circle cx="288.62" cy="150.69" r="1.15"/><circle cx="291.84" cy="150.69" r="1.15"/><circle cx="295.06" cy="165.85" r="1.15"/><circle cx="298.28" cy="165.85" r="1.15"/><circle cx="301.50" cy="165.85" r="1.15"/><circle cx="304.72" cy="165.85" r="1.15"/><circle cx="307.94" cy="175.96" r="1.15"/><circle cx="311.16" cy="186.07" r="1.15"/><circle cx="314.38" cy="186.07" r="1.15"/><circle cx="317.60" cy="191.12" r="1.15"/><circle cx="320.81" cy="191.12" r="1.15"/><circle cx="324.03" cy="191.12" r="1.15"/><circle cx="327.25" cy="191.12" r="1.15"/><circle cx="330.47" cy="191.12" r="1.15"/><circle cx="333.69" cy="191.12" r="1.15"/><circle cx="336.91" cy="191.12" r="1.15"/><circle cx="340.13" cy="191.12" r="1.15"/><circle cx="343.35" cy="196.18" r="1.15"/><circle cx="346.57" cy="196.18" r="1.15"/><circle cx="349.79" cy="196.18" r="1.15"/><circle cx="353.00" cy="201.23" r="1.15"/><circle cx="356.22" cy="201.23" r="1.15"/><circle cx="359.44" cy="206.29" r="1.15"/><circle cx="362.66" cy="206.29" r="1.15"/><circle cx="365.88" cy="216.40" r="1.15"/><circle cx="369.10" cy="216.40" r="1.15"/><circle cx="372.32" cy="216.40" r="1.15"/><circle cx="375.54" cy="216.40" r="1.15"/><circle cx="378.76" cy="216.40" r="1.15"/><circle cx="381.98" cy="216.40" r="1.15"/><circle cx="385.19" cy="216.40" r="1.15"/><circle cx="388.41" cy="216.40" r="1.15"/><circle cx="391.63" cy="216.40" r="1.15"/><circle cx="394.85" cy="221.45" r="1.15"/><circle cx="398.07" cy="221.45" r="1.15"/><circle cx="401.29" cy="241.67" r="1.15"/><circle cx="404.51" cy="246.72" r="1.15"/><circle cx="407.73" cy="246.72" r="1.15"/><circle cx="410.95" cy="246.72" r="1.15"/><circle cx="414.17" cy="251.77" r="1.15"/><circle cx="417.38" cy="251.77" r="1.15"/><circle cx="420.60" cy="251.77" r="1.15"/><circle cx="423.82" cy="251.77" r="1.15"/><circle cx="427.04" cy="261.88" r="1.15"/><circle cx="430.26" cy="261.88" r="1.15"/><circle cx="433.48" cy="261.88" r="1.15"/><circle cx="436.70" cy="261.88" r="1.15"/><circle cx="439.92" cy="261.88" r="1.15"/><circle cx="443.14" cy="261.88" r="1.15"/><circle cx="446.36" cy="261.88" r="1.15"/><circle cx="449.57" cy="261.88" r="1.15"/><circle cx="452.79" cy="261.88" r="1.15"/><circle cx="456.01" cy="261.88" r="1.15"/><circle cx="459.23" cy="261.88" r="1.15"/><circle cx="462.45" cy="261.88" r="1.15"/><circle cx="465.67" cy="261.88" r="1.15"/><circle cx="468.89" cy="261.88" r="1.15"/><circle cx="472.11" cy="261.88" r="1.15"/><circle cx="475.33" cy="261.88" r="1.15"/><circle cx="478.55" cy="261.88" r="1.15"/><circle cx="481.76" cy="266.94" r="1.15"/><circle cx="484.98" cy="266.94" r="1.15"/><circle cx="488.20" cy="266.94" r="1.15"/><circle cx="491.42" cy="266.94" r="1.15"/><circle cx="494.64" cy="266.94" r="1.15"/><circle cx="497.86" cy="266.94" r="1.15"/><circle cx="501.08" cy="266.94" r="1.15"/><circle cx="504.30" cy="266.94" r="1.15"/><circle cx="507.52" cy="266.94" r="1.15"/><circle cx="510.74" cy="266.94" r="1.15"/><circle cx="513.96" cy="266.94" r="1.15"/><circle cx="517.17" cy="266.94" r="1.15"/><circle cx="520.39" cy="266.94" r="1.15"/><circle cx="523.61" cy="266.94" r="1.15"/><circle cx="526.83" cy="266.94" r="1.15"/><circle cx="530.05" cy="266.94" r="1.15"/><circle cx="533.27" cy="266.94" r="1.15"/><circle cx="536.49" cy="266.94" r="1.15"/><circle cx="539.71" cy="266.94" r="1.15"/><circle cx="542.93" cy="266.94" r="1.15"/><circle cx="546.14" cy="261.88" r="1.15"/><circle cx="549.36" cy="261.88" r="1.15"/><circle cx="552.58" cy="261.88" r="1.15"/><circle cx="555.80" cy="261.88" r="1.15"/><circle cx="559.02" cy="261.88" r="1.15"/><circle cx="562.24" cy="261.88" r="1.15"/><circle cx="565.46" cy="261.88" r="1.15"/><circle cx="568.68" cy="261.88" r="1.15"/><circle cx="571.90" cy="261.88" r="1.15"/><circle cx="575.12" cy="261.88" r="1.15"/><circle cx="578.34" cy="261.88" r="1.15"/><circle cx="581.55" cy="261.88" r="1.15"/><circle cx="584.77" cy="261.88" r="1.15"/><circle cx="587.99" cy="261.88" r="1.15"/><circle cx="591.21" cy="261.88" r="1.15"/><circle cx="594.43" cy="261.88" r="1.15"/><circle cx="597.65" cy="261.88" r="1.15"/><circle cx="600.87" cy="261.88" r="1.15"/><circle cx="604.09" cy="261.88" r="1.15"/><circle cx="607.31" cy="256.83" r="1.15"/><circle cx="610.52" cy="256.83" r="1.15"/><circle cx="613.74" cy="256.83" r="1.15"/><circle cx="616.96" cy="256.83" r="1.15"/><circle cx="620.18" cy="256.83" r="1.15"/><circle cx="623.40" cy="256.83" r="1.15"/><circle cx="626.62" cy="256.83" r="1.15"/><circle cx="629.84" cy="256.83" r="1.15"/><circle cx="633.06" cy="256.83" r="1.15"/><circle cx="636.28" cy="256.83" r="1.15"/><circle cx="639.50" cy="256.83" r="1.15"/><circle cx="642.72" cy="256.83" r="1.15"/><circle cx="645.93" cy="246.72" r="1.15"/><circle cx="649.15" cy="246.72" r="1.15"/><circle cx="652.37" cy="246.72" r="1.15"/><circle cx="655.59" cy="246.72" r="1.15"/><circle cx="658.81" cy="246.72" r="1.15"/><circle cx="662.03" cy="246.72" r="1.15"/><circle cx="665.25" cy="246.72" r="1.15"/><circle cx="668.47" cy="246.72" r="1.15"/><circle cx="671.69" cy="246.72" r="1.15"/><circle cx="674.90" cy="246.72" r="1.15"/><circle cx="678.12" cy="246.72" r="1.15"/><circle cx="681.34" cy="246.72" r="1.15"/><circle cx="684.56" cy="246.72" r="1.15"/><circle cx="687.78" cy="231.56" r="1.15"/><circle cx="691.00" cy="231.56" r="1.15"/><circle cx="694.22" cy="231.56" r="1.15"/><circle cx="697.44" cy="231.56" r="1.15"/><circle cx="700.66" cy="231.56" r="1.15"/><circle cx="703.88" cy="231.56" r="1.15"/><circle cx="707.10" cy="221.45" r="1.15"/><circle cx="710.31" cy="211.34" r="1.15"/><circle cx="713.53" cy="211.34" r="1.15"/><circle cx="716.75" cy="201.23" r="1.15"/><circle cx="719.97" cy="201.23" r="1.15"/><circle cx="723.19" cy="201.23" r="1.15"/><circle cx="726.41" cy="201.23" r="1.15"/><circle cx="729.63" cy="201.23" r="1.15"/><circle cx="732.85" cy="201.23" r="1.15"/><circle cx="736.07" cy="191.12" r="1.15"/><circle cx="739.28" cy="191.12" r="1.15"/><circle cx="742.50" cy="191.12" r="1.15"/><circle cx="745.72" cy="191.12" r="1.15"/><circle cx="748.94" cy="181.02" r="1.15"/><circle cx="752.16" cy="181.02" r="1.15"/><circle cx="755.38" cy="181.02" r="1.15"/><circle cx="758.60" cy="181.02" r="1.15"/><circle cx="761.82" cy="181.02" r="1.15"/><circle cx="765.04" cy="170.91" r="1.15"/><circle cx="768.26" cy="170.91" r="1.15"/></g></svg>
</body></html>
